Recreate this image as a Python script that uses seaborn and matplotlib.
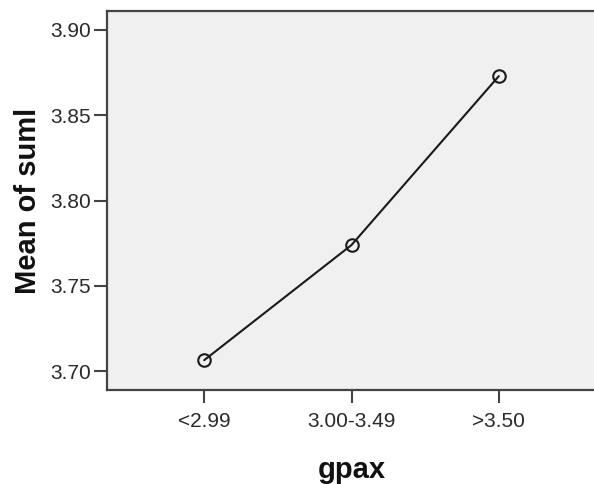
import matplotlib
matplotlib.use("Agg")
import matplotlib.pyplot as plt
import seaborn as sns
import pandas as pd

categories = ["<2.99", "3.00-3.49", ">3.50"]
means = [3.7064, 3.7739, 3.8729]
yticks = [3.70, 3.75, 3.80, 3.85, 3.90]
ytick_labels = ["3.70", "3.75", "3.80", "3.85", "3.90"]

sns.set_theme(style="white")
plt.rcParams['font.family'] = ['Liberation Sans', 'DejaVu Sans']

df = pd.DataFrame({"gpax": categories, "mean": means})

fig = plt.figure(figsize=(5.94, 4.84), dpi=100)
ax = fig.add_axes([107/594, 94/484, 489/594, 379/484])
ax.set_facecolor("#F0F0F0")

sns.lineplot(data=df, x="gpax", y="mean", sort=False, ax=ax, color="#1a1a1a",
             linewidth=1.5, marker="o", markersize=9, markerfacecolor="none",
             markeredgecolor="#1a1a1a", markeredgewidth=1.5)

ax.set_xlim(-0.66, 2.66)
ax.set_ylim(3.6889, 3.9111)
ax.set_yticks(yticks)
ax.set_yticklabels(ytick_labels)
ax.set_xticks(range(len(categories)))
ax.set_xticklabels(categories)

for s in ax.spines.values():
    s.set_color("#444444")
    s.set_linewidth(1.6)
    s.set_visible(True)

ax.tick_params(axis="both", which="major", direction="out", length=9.5, width=1.5,
               color="#444444", labelsize=15, labelcolor="#2a2a2a",
               bottom=True, left=True)
ax.tick_params(axis="x", pad=6)
ax.tick_params(axis="y", pad=2)

ax.set_xlabel("gpax", fontsize=21, fontweight="bold", color="#111111", labelpad=18)
ax.set_ylabel("Mean of suml", fontsize=21, fontweight="bold", color="#111111", labelpad=6)

fig.savefig("out.png", dpi=100)
